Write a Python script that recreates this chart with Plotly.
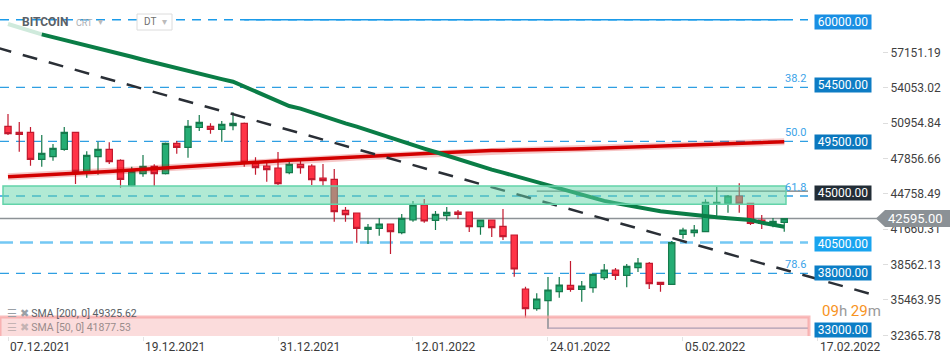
import plotly.graph_objects as go
import pandas as pd

# ---------------- data ----------------
dates = pd.date_range("2021-12-07", "2022-02-14", freq="D")

opens = [50672, 50147, 50147, 47783, 48010, 48658, 50147, 46732, 48010, 48658,
         47695, 45471, 46522, 47170, 46522, 49184, 48834, 50567, 50672, 50409,
         50725, 50935, 47520, 47196, 47021, 46609, 47345, 47196, 46145, 46032,
         43317, 43081, 41653, 41741, 42118, 41356, 42468, 43781, 42441, 42844,
         43168, 43168, 41881, 42468, 41916, 41154, 36426, 34701, 35402, 36190,
         36750, 36400, 36540, 37416, 38090, 37626, 38291, 38676, 37013, 36838,
         41216, 41356, 41443, 43869, 43930, 44569, 43930, 42468, 42091, 42266]
highs = [51749, 51049, 50611, 49910, 49122, 50611, 50200, 48483, 49324, 49271,
         47783, 47135, 48159, 47345, 49250, 49385, 51224, 51662, 50935, 51136,
         51898, 51000, 47958, 47520, 48422, 47783, 47660, 47345, 47371, 46933,
         43606, 43100, 42118, 42643, 42150, 42993, 44131, 44307, 43256, 43606,
         43343, 43200, 42500, 42500, 43431, 41200, 36627, 36049, 37477, 37477,
         38878, 37127, 37750, 38615, 38265, 38615, 39141, 38790, 37050, 40629,
         41794, 42030, 44280, 45384, 44657, 45681, 43950, 42906, 42643, 42650]
lows = [49910, 48448, 47222, 47135, 47660, 48536, 45620, 46172, 46434, 47371,
        45296, 45400, 46259, 45445, 46450, 48273, 47923, 50261, 50024, 49324,
        50322, 47135, 46434, 45821, 45532, 46480, 46522, 45532, 45471, 42319,
        42319, 40480, 40366, 41093, 39491, 41216, 42319, 42231, 41592, 42406,
        42555, 41417, 41181, 40979, 40717, 37503, 33913, 34526, 32950, 35664,
        36190, 35314, 36102, 37214, 37214, 36575, 37915, 36426, 36190, 36800,
        40831, 41006, 41400, 42757, 43107, 43107, 42030, 41680, 41829, 41443]
closes = [50024, 49972, 47783, 48308, 48746, 50147, 46732, 48133, 48658, 47573,
          46032, 46732, 47170, 46522, 49184, 48834, 50672, 51022, 50409, 50847,
          50935, 47520, 47047, 46872, 45646, 47345, 47047, 45997, 45909, 43195,
          42932, 41741, 41829, 42118, 41443, 42617, 43781, 42380, 42967, 43142,
          42967, 41881, 42468, 41794, 41006, 38177, 34701, 35551, 36339, 36776,
          36400, 36689, 37713, 38090, 37626, 38414, 38703, 36890, 36838, 40480,
          41592, 41592, 44018, 44018, 44569, 43930, 42179, 42179, 42354, 42595]

sma50 = [59630, 59314, 58999, 58719, 58483, 58246, 58010, 57782, 57546, 57283,
         57020, 56758, 56495, 56241, 55996, 55751, 55514, 55269, 55041, 54805,
         54577, 54139, 53710, 53273, 52817, 52450, 52222, 51880, 51530, 51215,
         50926, 50637, 50313, 49963, 49613, 49297, 49009, 48720, 48422, 48107,
         47783, 47450, 47117, 46881, 46618, 46338, 46049, 45760, 45480, 45287,
         44990, 44701, 44403, 44140, 43948, 43746, 43553, 43353, 43230, 43116,
         42993, 42879, 42783, 42704, 42626, 42547, 42459, 42240, 42021, 41877.53]
sma200 = [46259, 46303, 46338, 46373, 46417, 46460, 46513, 46574, 46644, 46706,
          46776, 46837, 46898, 46968, 47030, 47091, 47152, 47214, 47292, 47362,
          47441, 47511, 47564, 47607, 47651, 47695, 47739, 47783, 47835, 47879,
          47923, 47975, 48019, 48063, 48115, 48168, 48221, 48282, 48334, 48387,
          48439, 48492, 48536, 48544, 48562, 48571, 48580, 48597, 48615, 48649,
          48676, 48702, 48737, 48763, 48798, 48825, 48851, 48895, 48939, 48973,
          49008, 49052, 49087, 49131, 49166, 49210, 49236, 49263, 49298, 49325.62]

y_ticks = [57151.19, 54053.02, 50954.84, 47856.66, 44758.49, 41660.31, 38562.13, 35463.95, 32365.78]
x_tick_dates = ["2021-12-07", "2021-12-19", "2021-12-31", "2022-01-12", "2022-01-24", "2022-02-05", "2022-02-17"]
x_tick_labels = ["07.12.2021", "19.12.2021", "31.12.2021", "12.01.2022", "24.01.2022", "05.02.2022", "17.02.2022"]

fib_levels = [54087, 49358, 44569, 37801]
fib_labels = ["38.2", "50.0", "61.8", "78.6"]

price_levels = [60000, 54500, 49500, 45000, 40500, 38000, 33000]
price_level_colors = ["#1a8fe3", "#0d7cc4", "#0b78be", "#222d36", "#19a4ef", "#0c7ec6", "#0c7ec6"]

current_price = 42595.00
zone_top, zone_bottom = 45445, 43843
pink_top = 33974
trend_start = ("2021-12-06 00:00", 57560)
trend_end = ("2022-02-22 12:00", 35760)
sma200_last = 49325.62
sma50_last = 41877.53

# ---------------- geometry ----------------
W, H = 950, 361
ML, MR, MT, MB = 0, 68, 0, 25
PW, PH = W - ML - MR, H - MT - MB
y_min, y_max = 32311, 61731
x_start = pd.Timestamp("2021-12-06 06:56")
x_end = pd.Timestamp("2022-02-22 16:34")
t_per_px = (x_end - x_start) / PW


def px_date(px):
    return x_start + t_per_px * px


def xp(px):
    return px / PW


def yp(py):
    return 1 - py / PH


def price_to_paper(p):
    return (p - y_min) / (y_max - y_min)


fig = go.Figure()

fig.add_trace(go.Candlestick(
    x=dates, open=opens, high=highs, low=lows, close=closes,
    increasing=dict(line=dict(color="#157a4c", width=1.2), fillcolor="#25ad74"),
    decreasing=dict(line=dict(color="#c21a2f", width=1.2), fillcolor="#ff3447"),
    whiskerwidth=0, hoverinfo="skip", showlegend=False))

fig.add_trace(go.Scatter(x=dates, y=sma200, mode="lines",
                         line=dict(color="rgba(215,0,0,0.22)", width=7),
                         hoverinfo="skip", showlegend=False))
fig.add_trace(go.Scatter(x=dates, y=sma200, mode="lines",
                         line=dict(color="#d20000", width=3.5),
                         hoverinfo="skip", showlegend=False))
fig.add_trace(go.Scatter(x=dates[:4], y=sma50[:4], mode="lines",
                         line=dict(color="#cfeadc", width=4),
                         hoverinfo="skip", showlegend=False))
fig.add_trace(go.Scatter(x=dates[3:], y=sma50[3:], mode="lines",
                         line=dict(color="#0a7d46", width=4),
                         hoverinfo="skip", showlegend=False))

shapes = []
lvl_end = xp(808)
for f in fib_levels:
    shapes.append(dict(type="line", xref="paper", yref="y", x0=0, x1=lvl_end, y0=f, y1=f,
                       line=dict(color="#2f9fe2", width=1.3, dash="9px,7px"), layer="below"))
shapes.append(dict(type="line", xref="paper", yref="y", x0=0, x1=lvl_end, y0=60000, y1=60000,
                   line=dict(color="#1b9be9", width=1.3, dash="9px,7px"), layer="below"))
shapes.append(dict(type="line", xref="x", yref="y", x0=dates[21], x1=dates[-1], y0=60000, y1=60000,
                   line=dict(color="#1b9be9", width=1.5), layer="below"))
shapes.append(dict(type="line", xref="paper", yref="y", x0=0, x1=lvl_end, y0=40500, y1=40500,
                   line=dict(color="#74c8f4", width=2.5, dash="13px,7px"), layer="below"))
shapes.append(dict(type="line", xref="x", yref="y", x0=dates[47], x1=px_date(808), y0=45000, y1=45000,
                   line=dict(color="#6f7479", width=1.2), layer="below"))
shapes.append(dict(type="line", xref="paper", yref="y", x0=0, x1=xp(878), y0=current_price, y1=current_price,
                   line=dict(color="#8d9296", width=1.5), layer="below"))
shapes.append(dict(type="line", xref="x", yref="y", x0=dates[48], x1=dates[48], y0=pink_top - 200, y1=33000,
                   line=dict(color="#8aa2c2", width=1.2), layer="above"))
shapes.append(dict(type="line", xref="x", yref="y", x0=dates[48], x1=px_date(808), y0=33000, y1=33000,
                   line=dict(color="#8aa2c2", width=1.2), layer="above"))
shapes.append(dict(type="line", xref="x", yref="y", x0=trend_start[0], y0=trend_start[1],
                   x1=trend_end[0], y1=trend_end[1],
                   line=dict(color="#2a2f36", width=2.5, dash="15px,12px"), layer="above"))
shapes.append(dict(type="rect", xref="x", yref="y", x0=px_date(3), x1=px_date(786),
                   y0=zone_bottom, y1=zone_top,
                   fillcolor="rgba(100,214,170,0.5)", line=dict(color="#63d3a9", width=1.5), layer="above"))
shapes.append(dict(type="rect", xref="paper", yref="y", x0=0, x1=xp(809),
                   y0=y_min - 500, y1=pink_top,
                   fillcolor="rgba(244,150,150,0.33)", line=dict(color="rgba(246,160,160,0.7)", width=3),
                   layer="above"))
pyc = price_to_paper(current_price)
hh = 8.5 / PH
shapes.append(dict(type="path", xref="paper", yref="paper",
                   path=f"M {xp(876)},{pyc} L {xp(885)},{pyc + hh} L {xp(950)},{pyc + hh} "
                        f"L {xp(950)},{pyc - hh} L {xp(885)},{pyc - hh} Z",
                   fillcolor="#8b9196", line=dict(width=0), layer="above"))
shapes.append(dict(type="rect", xref="paper", yref="paper", x0=xp(137), x1=xp(172), y0=yp(30), y1=yp(14),
                   fillcolor="white", line=dict(color="#dcdcdc", width=1), layer="above"))

ann = []


def note(**kw):
    kw.setdefault("showarrow", False)
    kw.setdefault("xanchor", "center")
    kw.setdefault("yanchor", "middle")
    ann.append(kw)


for p, c in zip(price_levels, price_level_colors):
    note(xref="paper", yref="y", x=xp(843), y=p, yshift=-2, text=f"{p:.2f}",
         bgcolor=c, width=55, height=13, borderpad=0.5,
         font=dict(family="Roboto", size=12, color="white"))
for f, t in zip(fib_levels, fib_labels):
    note(xref="paper", yref="y", x=lvl_end, y=f, yshift=9, xanchor="right", text=t,
         font=dict(family="Roboto", size=11, color="#3ba3e8"))
note(xref="paper", yref="y", x=xp(916), y=current_price, text=f"{current_price:.2f}",
     font=dict(family="Roboto", size=13, color="white"))
for d, t in zip(x_tick_dates, x_tick_labels):
    note(xref="x", yref="paper", x=d, y=0, yshift=-2, xanchor="left", yanchor="top",
         text=t, font=dict(family="Roboto", size=12, color="#3a3a3a"))
note(xref="paper", yref="paper", x=xp(851), y=yp(311),
     text="<span style='color:#f7931e'>09</span><span style='color:#9a9a9a'>h </span>"
          "<span style='color:#f7931e'>29</span><span style='color:#9a9a9a'>m</span>",
     font=dict(family="Roboto", size=15))
note(xref="paper", yref="paper", x=xp(20), y=yp(22), xanchor="left", text="<b>BITCOIN</b>",
     font=dict(family="Roboto", size=12, color="#5a5f66"))
note(xref="paper", yref="paper", x=xp(74), y=yp(23), xanchor="left", text="CRT",
     font=dict(family="Roboto", size=9, color="#a9adb2"))
note(xref="paper", yref="paper", x=xp(96), y=yp(22), xanchor="left", text="▾",
     font=dict(family="DejaVu Sans", size=10, color="#bbbbbb"))
note(xref="paper", yref="paper", x=xp(142), y=yp(22), xanchor="left", text="DT",
     font=dict(family="Roboto", size=10, color="#707070"))
note(xref="paper", yref="paper", x=xp(160), y=yp(22), xanchor="left", text="▾",
     font=dict(family="DejaVu Sans", size=10, color="#bbbbbb"))
note(xref="paper", yref="paper", x=xp(5), y=yp(313), xanchor="left",
     text=f"<span style='color:#9aa0a6'>☰ ✖</span> SMA [200, 0] {sma200_last:.2f}",
     font=dict(family="Roboto", size=10.5, color="#5a5f66"))
note(xref="paper", yref="paper", x=xp(5), y=yp(327), xanchor="left",
     text=f"<span style='color:#c4b3b3'>☰ ✖</span> SMA [50, 0] {sma50_last:.2f}",
     font=dict(family="Roboto", size=10.5, color="#9a8c8c"))

fig.update_layout(
    width=W, height=H, margin=dict(l=ML, r=MR, t=MT, b=MB, autoexpand=False),
    paper_bgcolor="white", plot_bgcolor="white",
    boxgap=0.44, boxgroupgap=0,
    shapes=shapes, annotations=ann, showlegend=False,
    xaxis=dict(type="date", range=[x_start, x_end], showgrid=False, zeroline=False,
               showticklabels=False, tickvals=x_tick_dates, ticks="outside", ticklen=4,
               tickcolor="#e3e3e3", rangeslider=dict(visible=False), showline=False,
               automargin=False),
    yaxis=dict(side="right", range=[y_min, y_max], showgrid=False, zeroline=False,
               tickvals=y_ticks, ticktext=[f"{v:.2f}" for v in y_ticks],
               ticks="outside", ticklen=5, tickcolor="#dddddd",
               tickfont=dict(family="Roboto", size=12, color="#3f3f3f"), showline=False,
               automargin=False),
)

fig.write_html("out.html", config={"displayModeBar": False, "staticPlot": True},
               post_script="document.body.style.margin='0';document.body.style.padding='0';"
                           "document.body.style.overflow='hidden';")
